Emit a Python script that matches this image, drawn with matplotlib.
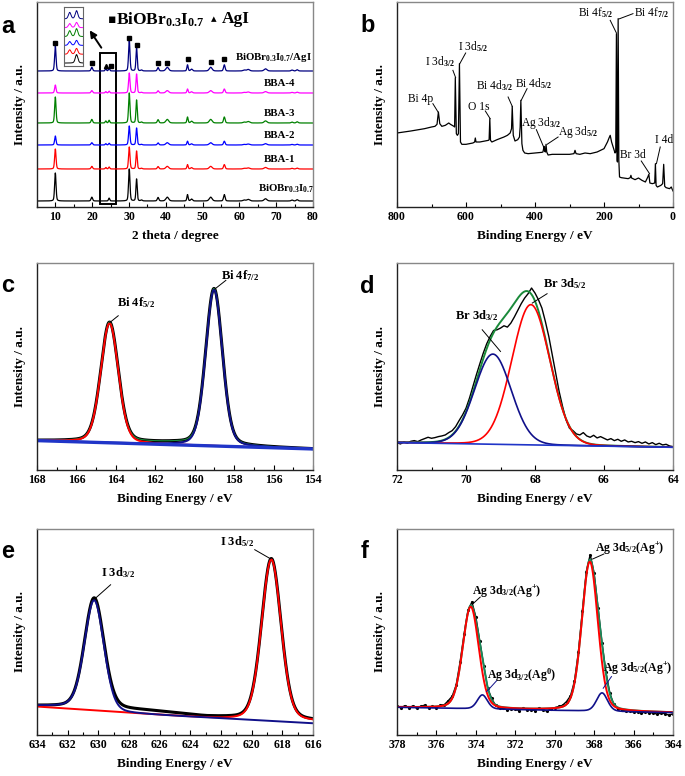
import numpy as np
import matplotlib
matplotlib.use('Agg')
import matplotlib.pyplot as plt
from matplotlib.patches import Rectangle
from matplotlib.ticker import MultipleLocator

plt.rcParams['font.family'] = ['Liberation Serif', 'DejaVu Sans']
plt.rcParams['font.weight'] = 'bold'
plt.rcParams['mathtext.fontset'] = 'custom'
plt.rcParams['mathtext.rm'] = 'Liberation Serif'
plt.rcParams['mathtext.bf'] = 'Liberation Serif:bold'
plt.rcParams['mathtext.default'] = 'bf'

# ---------------- a: XRD ----------------
xrd_pos = [9.98, 19.9, 23.7, 24.6, 30.07, 32.06, 33.4, 37.9, 40.4, 45.9,
           47.0, 52.2, 55.9, 61.3, 62.4, 67.1, 74.3, 75.7]
xrd_fwhm = [0.45, 0.5, 0.4, 0.4, 0.45, 0.4, 0.5, 0.5, 0.9, 0.4,
            0.6, 0.9, 0.5, 0.8, 0.9, 0.9, 0.6, 0.6]
xrd_rel = [0, 0.12, 0, 0.09, 0, 0, 0.03, 0.11, 0.12, 0.2,
           0.06, 0.12, 0.2, 0.03, 0.05, 0.07, 0.03, 0.04]
xrd_names = [r'BiOBr$_{0.3}$I$_{0.7}$', 'BBA-1', 'BBA-2', 'BBA-3', 'BBA-4',
             r'BiOBr$_{0.3}$I$_{0.7}$/AgI']
xrd_colors = ['black', '#ff0000', '#0000ff', '#008000', '#ff00ff', '#000080']
xrd_offset = [6, 38, 62, 84, 114, 136]
xrd_h10 = [28, 20, 9, 26, 8, 25]
xrd_h30 = [32, 22, 19, 30, 20, 31]
xrd_h32 = [22, 18, 17, 23, 19, 23]
xrd_hagi = [0, 1.5, 1.3, 2.0, 1.4, 2.2]
xrd_label_x = [72.8, 71, 71, 71, 71, 69.3]
xrd_label_y = [18, 47, 72, 94, 123, 150]
sq_pos = [9.98, 19.9, 25.1, 30.07, 32.06, 37.9, 40.4, 45.9, 52.2, 55.9]
sq_y = [164, 144, 141, 169, 162, 144, 144, 148, 145, 148]
tri_pos = [23.75]
tri_y = [141]

# ---------------- b: survey ----------------
survey_be = [800, 760, 720, 700, 690, 684, 680, 676, 670, 660, 650, 645, 640, 635, 633,
             631, 628, 625, 622, 619, 616, 612, 600, 580, 575, 573, 571, 560, 545, 535,
             533, 531, 529, 525, 510, 490, 480, 472, 468, 466, 463, 458, 450, 445, 443,
             441, 438, 435, 430, 420, 400, 380, 377, 375, 374, 372, 370, 368, 366, 362,
             350, 300, 287, 284, 281, 270, 255, 240, 220, 200, 190, 185, 182, 178, 172,
             168, 166, 164, 162, 161, 159, 157, 155, 150, 130, 124, 122, 120, 110, 100,
             90, 80, 73, 70, 67, 60, 53, 51, 49, 47, 45, 35, 30, 27, 24,
             20, 10, 5, 3, 0]
survey_int = [222, 228, 235, 240, 242, 248, 285, 250, 242, 245, 252, 248, 245, 242, 240,
              388, 220, 215, 220, 430, 195, 188, 188, 192, 195, 207, 195, 195, 198, 200,
              202, 265, 200, 195, 202, 210, 215, 222, 235, 302, 215, 198, 202, 210, 240,
              320, 190, 170, 162, 160, 162, 164, 165, 175, 182, 168, 165, 188, 165, 156,
              158, 158, 160, 170, 160, 158, 162, 160, 165, 175, 195, 208, 215, 195, 175,
              162, 165, 520, 140, 135, 565, 140, 90, 88, 85, 88, 95, 87, 82, 87,
              80, 75, 90, 98, 72, 70, 72, 130, 65, 62, 60, 65, 70, 128, 62,
              58, 55, 60, 55, 48]
survey_labels = ['Bi 4p', r'I 3d$_{\mathrm{3/2}}$', r'I 3d$_{\mathrm{5/2}}$', 'O 1s',
                 r'Bi 4d$_{\mathrm{3/2}}$', r'Bi 4d$_{\mathrm{5/2}}$', r'Ag 3d$_{\mathrm{3/2}}$',
                 r'Ag 3d$_{\mathrm{5/2}}$', r'Bi 4f$_{\mathrm{5/2}}$', r'Bi 4f$_{\mathrm{7/2}}$',
                 'Br 3d', 'I 4d']
survey_text_xy = [(732, 325), (676, 435), (580, 480), (562, 300), (516, 365), (405, 370),
                  (382, 252), (276, 225), (224, 582), (63, 582), (116, 155), (27, 200)]
survey_line = [((696, 310), (681, 285)), ((638, 410), (630, 388)), ((601, 462), (618, 430)),
               ((544, 288), (530, 265)), ((478, 330), (466, 302)), ((423, 355), (440, 320)),
               ((396, 232), (375, 180)), ((333, 210), (365, 188)), ((182, 560), (164, 522)),
               ((116, 580), (157, 564)), ((92, 138), (68, 100)), ((37, 180), (48, 130))]

# ---------------- c: Bi 4f ----------------
bi_pos = [164.32, 159.02]
bi_h = [358, 468]
bi_fwhm = [1.05, 1.0]
bi_base_be = [168, 154]
bi_base_int = [88, 63]
bi_raw_base_be = [168, 163, 161, 158, 154]
bi_raw_base_int = [88, 83, 81, 72, 63]

# ---------------- d: Br 3d ----------------
br_pos = [69.22, 68.12]
br_h = [270, 420]
br_fwhm = [1.25, 1.3]
br_base_be = [72, 64]
br_base_int = [82, 68]
br_raw_be = np.linspace(72, 64, 81)
br_raw = [82, 78, 84, 80, 86, 88, 85, 90, 94, 98,
          95, 97, 100, 102, 105, 112, 118, 130, 148, 165,
          185, 215, 250, 285, 318, 350, 378, 400, 418, 420,
          425, 432, 428, 440, 458, 478, 498, 515, 528, 545,
          530, 510, 485, 445, 400, 345, 290, 235, 190, 150,
          125, 118, 108, 105, 112, 102, 98, 104, 96, 100,
          95, 90, 94, 88, 92, 86, 90, 84, 86, 82,
          85, 80, 84, 78, 82, 76, 80, 75, 77, 72, 70]

# ---------------- e: I 3d ----------------
i_pos = [630.27, 618.72]
i_h = [330, 482]
i_fwhm = [1.5, 1.5]
i_blue_base_be = [634, 632, 629, 622, 616]
i_blue_base_int = [87, 84, 66, 50, 35]
i_red_base_be = [634, 622, 616]
i_red_base_int = [85, 48, 40]
i_raw_base_be = [634, 632, 629, 627, 625, 623, 621, 616]
i_raw_base_int = [87, 84, 78, 73, 65, 55, 50, 42]

# ---------------- f: Ag 3d ----------------
ag_red_pos = [374.26, 368.22]
ag_red_h = [305, 447]
ag_red_fwhm = [0.96, 0.96]
ag_blue_pos = [373.67, 367.6]
ag_blue_h = [42, 55]
ag_blue_fwhm = [0.6, 0.65]
ag_base_be = [378, 364]
ag_base_int = [83, 67]
ag_raw_be = np.linspace(378, 364, 71)
ag_resid = [2, -3, 4, -2, 3, -4, 2, 5, -3, 1,
            -5, 3, 2, 8, 6, 4, 10, 8, 6, 12,
            10, 5, 2, -3, 4, -2, -5, -3, -6, -2,
            -4, -7, 2, -5, -3, -6, 2, -4, -8, -2,
            1, 3, 4, 8, 6, 5, 8, 10, 12, 15,
            10, 6, 3, 5, 2, -2, -4, -3, -5, -2,
            -6, -3, -7, -2, -5, -4, -8, -3, -6, -9, -5]


def pv(x, c, h, fwhm, eta=0.2):
    sig = fwhm / 2.3548
    g = np.exp(-0.5 * ((x - c) / sig) ** 2)
    lor = 1.0 / (1.0 + ((x - c) / (fwhm / 2)) ** 2)
    return h * ((1 - eta) * g + eta * lor)


def base(x, be, vals):
    return np.interp(x, be[::-1], vals[::-1]) if be[0] > be[-1] else np.interp(x, be, vals)


def xrd_pattern(x, i):
    heights = [r * xrd_h30[i] for r in xrd_rel]
    heights[0] = xrd_h10[i]
    heights[2] = xrd_hagi[i]
    heights[4] = xrd_h30[i]
    heights[5] = xrd_h32[i]
    y = np.zeros_like(x)
    for c, h, w in zip(xrd_pos, heights, xrd_fwhm):
        y += pv(x, c, h, w, 0.3)
    return y


def style(ax, xlim, major, minor, xlabel):
    ax.set_xlim(*xlim)
    ax.set_yticks([])
    ax.xaxis.set_major_locator(MultipleLocator(major))
    ax.xaxis.set_minor_locator(MultipleLocator(minor))
    ax.tick_params(axis='x', which='major', direction='in', length=3.5, width=0.8,
                   labelsize=8.5, pad=3)
    ax.tick_params(axis='x', which='minor', direction='in', length=2, width=0.8)
    for lab in ax.get_xticklabels():
        lab.set_fontweight('bold')
    for s in ['left', 'bottom']:
        ax.spines[s].set_color('#222222')
        ax.spines[s].set_linewidth(1.0)
    for s in ['top', 'right']:
        ax.spines[s].set_color('#888888')
        ax.spines[s].set_linewidth(1.0)
    ax.set_xlabel(xlabel, fontsize=9.5, fontweight='bold', labelpad=5)
    ax.set_ylabel('Intensity / a.u.', fontsize=9.5, fontweight='bold', labelpad=8)


W, H = 685, 776
fig = plt.figure(figsize=(W / 100, H / 100), dpi=100)


def box(l, t, r, b):
    return [l / W, 1 - b / H, (r - l) / W, (b - t) / H]


ax_a = fig.add_axes(box(37, 2, 313, 207))
ax_b = fig.add_axes(box(397, 2, 673, 207))
ax_c = fig.add_axes(box(37, 263, 313, 470))
ax_d = fig.add_axes(box(397, 263, 673, 470))
ax_e = fig.add_axes(box(37, 529, 313, 735))
ax_f = fig.add_axes(box(397, 529, 673, 735))

# ---- a ----
x = np.linspace(5, 80, 3000)
for i in range(6):
    ax_a.plot(x, xrd_pattern(x, i) + xrd_offset[i], color=xrd_colors[i], lw=0.9)
    ax_a.text(xrd_label_x[i], xrd_label_y[i], xrd_names[i], fontsize=7.8,
              ha='center', va='center')
ax_a.plot(sq_pos, sq_y, 's', color='black', ms=3)
ax_a.plot(tri_pos, tri_y, '^', color='black', ms=3)
ax_a.add_patch(Rectangle((22.1, 3), 4.4, 151, fill=False, ec='black', lw=1.4))
ax_a.annotate('', xy=(18.9, 179), xytext=(22.9, 157),
              arrowprops=dict(arrowstyle='-|>', color='black', lw=1.4, mutation_scale=10))
ax_a.text(0.255, 0.915, '▪', transform=ax_a.transAxes, fontsize=9,
          family=['DejaVu Sans'], ha='left', va='center')
ax_a.text(0.285, 0.915, r'BiOBr$_{0.3}$I$_{0.7}$', transform=ax_a.transAxes, fontsize=12.5,
          ha='left', va='center')
ax_a.text(0.63, 0.915, '▴', transform=ax_a.transAxes, fontsize=8,
          family=['DejaVu Sans'], ha='left', va='center')
ax_a.text(0.67, 0.915, 'AgI', transform=ax_a.transAxes, fontsize=12.5,
          ha='left', va='center')
ax_a.set_ylim(0, 205)
style(ax_a, (5, 80), 10, 5, '2 theta / degree')

ins = fig.add_axes(box(64, 7, 83, 66))
xi = np.linspace(22.95, 25.45, 300)
for i in range(6):
    ins.plot(xi, (xrd_pattern(xi, i) - xrd_pattern(xi, i).min()) * 0.05 + 0.05 + 0.15 * i,
             color=xrd_colors[i], lw=0.7)
ins.set_xlim(22.95, 25.45)
ins.set_ylim(0, 1)
ins.set_xticks([])
ins.set_yticks([])
for s in ins.spines.values():
    s.set_color('#666666')
    s.set_linewidth(0.8)

# ---- b ----
ax_b.plot(survey_be, survey_int, color='black', lw=0.9)
for lab, (tx, ty), (p0, p1) in zip(survey_labels, survey_text_xy, survey_line):
    ax_b.text(tx, ty, lab, fontsize=8.3, fontweight='normal', ha='center', va='center')
    ax_b.plot([p0[0], p1[0]], [p0[1], p1[1]], color='black', lw=0.7)
ax_b.set_ylim(0, 615)
style(ax_b, (800, 0), 200, 100, 'Binding Energy / eV')

# ---- c ----
x = np.linspace(168, 154, 1400)
bb = base(x, bi_base_be, bi_base_int)
rawb = base(x, bi_raw_base_be, bi_raw_base_int)
p1 = pv(x, bi_pos[0], bi_h[0], bi_fwhm[0])
p2 = pv(x, bi_pos[1], bi_h[1], bi_fwhm[1])
ax_c.plot(x, rawb + p1 + p2, color='black', lw=2.2)
ax_c.plot(x, rawb + p1 + p2, color='#1a8a3a', lw=0.8)
ax_c.plot(x, bb + p1, color='#ff0000', lw=1.4)
ax_c.plot(x, bb + p2, color='#10108a', lw=1.4)
ax_c.plot(x, bb, color='#2035c8', lw=2.4)
ax_c.text(162.95, 500, r'Bi 4f$_{5/2}$', fontsize=9, ha='center', va='center')
ax_c.plot([163.88, 164.3], [462, 442], color='black', lw=0.7)
ax_c.text(157.71, 582, r'Bi 4f$_{7/2}$', fontsize=9, ha='center', va='center')
ax_c.plot([158.42, 158.98], [568, 542], color='black', lw=0.7)
ax_c.set_ylim(0, 620)
style(ax_c, (168, 154), 2, 1, 'Binding Energy / eV')

# ---- d ----
x = np.linspace(72, 64, 1000)
bb = base(x, br_base_be, br_base_int)
p1 = pv(x, br_pos[0], br_h[0], br_fwhm[0], 0.05)
p2 = pv(x, br_pos[1], br_h[1], br_fwhm[1], 0.05)
ax_d.plot(br_raw_be, br_raw, color='black', lw=1.0)
ax_d.plot(x, bb + p1 + p2, color='#1a8a3a', lw=1.4)
ax_d.plot(x, bb + p2, color='#ff0000', lw=1.2)
ax_d.plot(x, bb + p1, color='#10108a', lw=1.2)
ax_d.plot(x, bb, color='#2035c8', lw=1.2)
ax_d.text(69.70, 462, r'Br 3d$_{3/2}$', fontsize=9, ha='center', va='center')
ax_d.plot([69.53, 69.0], [420, 355], color='black', lw=0.7)
ax_d.text(67.14, 557, r'Br 3d$_{5/2}$', fontsize=9, ha='center', va='center')
ax_d.plot([67.65, 68.08], [528, 500], color='black', lw=0.7)
ax_d.set_ylim(0, 620)
style(ax_d, (72, 64), 2, 1, 'Binding Energy / eV')

# ---- e ----
x = np.linspace(634, 616, 1400)
bblue = base(x, i_blue_base_be, i_blue_base_int)
bred = base(x, i_red_base_be, i_red_base_int)
braw = base(x, i_raw_base_be, i_raw_base_int)
p1 = pv(x, i_pos[0], i_h[0], i_fwhm[0])
p2 = pv(x, i_pos[1], i_h[1], i_fwhm[1])
ax_e.plot(x, braw + p1 + p2, color='black', lw=2.2)
ax_e.plot(x, bred + p2, color='#ff0000', lw=1.4)
ax_e.plot(x, bblue + p1, color='#10108a', lw=1.4)
ax_e.text(628.70, 485, r'I 3d$_{3/2}$', fontsize=9, ha='center', va='center')
ax_e.plot([629.2, 630.18], [450, 410], color='black', lw=0.7)
ax_e.text(620.95, 580, r'I 3d$_{5/2}$', fontsize=9, ha='center', va='center')
ax_e.plot([619.8, 618.78], [555, 528], color='black', lw=0.7)
ax_e.set_ylim(0, 617)
style(ax_e, (634, 616), 2, 1, 'Binding Energy / eV')

# ---- f ----
x = np.linspace(378, 364, 1400)
bb = base(x, ag_base_be, ag_base_int)
r1 = pv(x, ag_red_pos[0], ag_red_h[0], ag_red_fwhm[0])
r2 = pv(x, ag_red_pos[1], ag_red_h[1], ag_red_fwhm[1])
n1 = pv(x, ag_blue_pos[0], ag_blue_h[0], ag_blue_fwhm[0])
n2 = pv(x, ag_blue_pos[1], ag_blue_h[1], ag_blue_fwhm[1])
xr = ag_raw_be
env_raw = base(xr, ag_base_be, ag_base_int)
for c, h, w in zip(ag_red_pos + ag_blue_pos, ag_red_h + ag_blue_h, ag_red_fwhm + ag_blue_fwhm):
    env_raw = env_raw + pv(xr, c, h, w)
ax_f.plot(xr, env_raw + np.array(ag_resid), color='black', lw=1.0, marker='.', ms=2.5)
ax_f.plot(x, bb + r1 + r2 + n1 + n2, color='#1a8a5a', lw=1.4)
ax_f.plot(x, bb + r1 + r2, color='#ff0000', lw=1.4)
ax_f.plot(x, bb + n1 + n2, color='#10108a', lw=1.2)
ax_f.text(366.19, 557, r'Ag 3d$_{5/2}$(Ag$^{+}$)', fontsize=8.5, ha='center', va='center')
ax_f.plot([367.51, 368.08], [542, 527], color='black', lw=0.7)
ax_f.text(372.43, 430, r'Ag 3d$_{3/2}$(Ag$^{+}$)', fontsize=8.5, ha='center', va='center')
ax_f.plot([373.78, 374.15], [413, 393], color='black', lw=0.7)
ax_f.text(371.68, 180, r'Ag 3d$_{3/2}$(Ag$^{0}$)', fontsize=8.5, ha='center', va='center')
ax_f.plot([372.94, 373.45], [163, 130], color='#10108a', lw=0.7)
ax_f.text(365.77, 197, r'Ag 3d$_{5/2}$(Ag$^{+}$)', fontsize=8.5, ha='center', va='center')
ax_f.plot([367.12, 367.54], [175, 140], color='#10108a', lw=0.7)
ax_f.set_ylim(0, 617)
style(ax_f, (378, 364), 2, 1, 'Binding Energy / eV')

# panel letters
for lab, px, py in [('a', 1, 33), ('b', 360, 32), ('c', 1, 292),
                    ('d', 360, 293), ('e', 1, 558), ('f', 361, 558)]:
    fig.text(px / W, 1 - py / H, lab, fontsize=17, fontweight='bold',
             family='Liberation Sans', ha='left', va='baseline')

fig.savefig('out.png', dpi=100)
plt.close(fig)
